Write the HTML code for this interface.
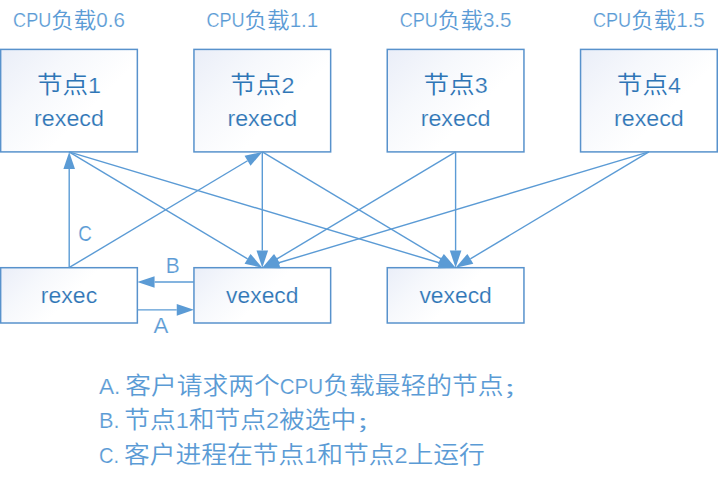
<!DOCTYPE html>
<html lang="zh-CN"><head><meta charset="utf-8"><title>rexec</title>
<style>
html,body{margin:0;padding:0;background:#fff;}
body{width:718px;height:483px;overflow:hidden;font-family:'Liberation Sans','Noto Sans CJK SC',sans-serif;}
svg{display:block}
text{font-family:'Liberation Sans','Noto Sans CJK SC',sans-serif;white-space:pre}
</style></head><body>
<svg width="718" height="483" viewBox="0 0 718 483">

<linearGradient id="g1" gradientUnits="userSpaceOnUse" x1="0.65" y1="49.40" x2="75.65" y2="124.40"><stop offset="0" stop-color="#eaeef8"/><stop offset="0.5" stop-color="#f6f8fc"/><stop offset="1" stop-color="#ffffff"/></linearGradient>
<rect x="0.65" y="49.40" width="136.70" height="102.50" fill="url(#g1)" stroke="#5892cc" stroke-width="1.5"/>
<linearGradient id="g2" gradientUnits="userSpaceOnUse" x1="193.95" y1="49.40" x2="268.95" y2="124.40"><stop offset="0" stop-color="#eaeef8"/><stop offset="0.5" stop-color="#f6f8fc"/><stop offset="1" stop-color="#ffffff"/></linearGradient>
<rect x="193.95" y="49.40" width="136.70" height="102.50" fill="url(#g2)" stroke="#5892cc" stroke-width="1.5"/>
<linearGradient id="g3" gradientUnits="userSpaceOnUse" x1="387.25" y1="49.40" x2="462.25" y2="124.40"><stop offset="0" stop-color="#eaeef8"/><stop offset="0.5" stop-color="#f6f8fc"/><stop offset="1" stop-color="#ffffff"/></linearGradient>
<rect x="387.25" y="49.40" width="136.70" height="102.50" fill="url(#g3)" stroke="#5892cc" stroke-width="1.5"/>
<linearGradient id="g4" gradientUnits="userSpaceOnUse" x1="580.55" y1="49.40" x2="655.55" y2="124.40"><stop offset="0" stop-color="#eaeef8"/><stop offset="0.5" stop-color="#f6f8fc"/><stop offset="1" stop-color="#ffffff"/></linearGradient>
<rect x="580.55" y="49.40" width="136.70" height="102.50" fill="url(#g4)" stroke="#5892cc" stroke-width="1.5"/>
<linearGradient id="g5" gradientUnits="userSpaceOnUse" x1="0.65" y1="267.70" x2="50.65" y2="317.70"><stop offset="0" stop-color="#eaeef8"/><stop offset="0.5" stop-color="#f6f8fc"/><stop offset="1" stop-color="#ffffff"/></linearGradient>
<rect x="0.65" y="267.70" width="136.70" height="55.30" fill="url(#g5)" stroke="#5892cc" stroke-width="1.5"/>
<linearGradient id="g6" gradientUnits="userSpaceOnUse" x1="193.95" y1="267.70" x2="243.95" y2="317.70"><stop offset="0" stop-color="#eaeef8"/><stop offset="0.5" stop-color="#f6f8fc"/><stop offset="1" stop-color="#ffffff"/></linearGradient>
<rect x="193.95" y="267.70" width="136.70" height="55.30" fill="url(#g6)" stroke="#5892cc" stroke-width="1.5"/>
<linearGradient id="g7" gradientUnits="userSpaceOnUse" x1="387.25" y1="267.70" x2="437.25" y2="317.70"><stop offset="0" stop-color="#eaeef8"/><stop offset="0.5" stop-color="#f6f8fc"/><stop offset="1" stop-color="#ffffff"/></linearGradient>
<rect x="387.25" y="267.70" width="136.70" height="55.30" fill="url(#g7)" stroke="#5892cc" stroke-width="1.5"/>
<line x1="69.20" y1="267.70" x2="69.20" y2="169.10" stroke="#5b9bd5" stroke-width="1.4"/><polygon points="69.20,151.90 75.00,169.10 63.40,169.10" fill="#5b9bd5"/>
<line x1="69.00" y1="267.70" x2="247.55" y2="160.74" stroke="#5b9bd5" stroke-width="1.4"/><polygon points="262.30,151.90 250.53,165.71 244.56,155.76" fill="#5b9bd5"/>
<line x1="69.00" y1="151.90" x2="247.55" y2="258.86" stroke="#5b9bd5" stroke-width="1.4"/><polygon points="262.30,267.70 244.56,263.84 250.53,253.89" fill="#5b9bd5"/>
<line x1="69.00" y1="151.90" x2="439.12" y2="262.76" stroke="#5b9bd5" stroke-width="1.4"/><polygon points="455.60,267.70 437.46,268.32 440.79,257.21" fill="#5b9bd5"/>
<line x1="262.30" y1="151.90" x2="262.30" y2="250.50" stroke="#5b9bd5" stroke-width="1.4"/><polygon points="262.30,267.70 256.50,250.50 268.10,250.50" fill="#5b9bd5"/>
<line x1="262.30" y1="151.90" x2="440.85" y2="258.86" stroke="#5b9bd5" stroke-width="1.4"/><polygon points="455.60,267.70 437.86,263.84 443.83,253.89" fill="#5b9bd5"/>
<line x1="455.60" y1="151.90" x2="277.05" y2="258.86" stroke="#5b9bd5" stroke-width="1.4"/><polygon points="262.30,267.70 274.07,253.89 280.04,263.84" fill="#5b9bd5"/>
<line x1="455.60" y1="151.90" x2="455.60" y2="250.50" stroke="#5b9bd5" stroke-width="1.4"/><polygon points="455.60,267.70 449.80,250.50 461.40,250.50" fill="#5b9bd5"/>
<line x1="648.90" y1="151.90" x2="278.78" y2="262.76" stroke="#5b9bd5" stroke-width="1.4"/><polygon points="262.30,267.70 277.11,257.21 280.44,268.32" fill="#5b9bd5"/>
<line x1="648.90" y1="151.90" x2="470.35" y2="258.86" stroke="#5b9bd5" stroke-width="1.4"/><polygon points="455.60,267.70 467.37,253.89 473.34,263.84" fill="#5b9bd5"/>
<line x1="193.95" y1="281.95" x2="154.55" y2="281.95" stroke="#5b9bd5" stroke-width="1.4"/><polygon points="137.35,281.95 154.55,276.15 154.55,287.75" fill="#5b9bd5"/>
<line x1="137.35" y1="309.85" x2="176.75" y2="309.85" stroke="#5b9bd5" stroke-width="1.4"/><polygon points="193.95,309.85 176.75,315.65 176.75,304.05" fill="#5b9bd5"/>
<text transform="translate(0,26.90) scale(1,0.95)" fill="#5b9bd5"><tspan x="13.10" y="0" font-size="20.89" textLength="38.15" lengthAdjust="spacingAndGlyphs" stroke="#fff" stroke-width="0.2">CPU</tspan><tspan x="51.25 73.80" y="0.84" font-size="22.55" font-weight="350">负载</tspan><tspan x="96.35" y="0" font-size="20.89" textLength="28.55" lengthAdjust="spacingAndGlyphs" stroke="#fff" stroke-width="0.2">0.6</tspan></text>
<text transform="translate(0,93.20) scale(1,0.92)" fill="#2e75b6"><tspan x="36.91 62.51" y="0.00" font-size="25.60" font-weight="350">节点</tspan><tspan x="88.11" y="0" font-size="24.49" textLength="12.98" lengthAdjust="spacingAndGlyphs" stroke="#fff" stroke-width="0.2">1</tspan></text>
<text transform="translate(0,125.60) scale(1,0.92)" fill="#2e75b6"><tspan x="34.11" y="0" font-size="24.49" textLength="69.79" lengthAdjust="spacingAndGlyphs" stroke="#fff" stroke-width="0.2">rexecd</tspan></text>
<text transform="translate(0,26.90) scale(1,0.95)" fill="#5b9bd5"><tspan x="206.40" y="0" font-size="20.89" textLength="38.15" lengthAdjust="spacingAndGlyphs" stroke="#fff" stroke-width="0.2">CPU</tspan><tspan x="244.55 267.10" y="0.84" font-size="22.55" font-weight="350">负载</tspan><tspan x="289.65" y="0" font-size="20.89" textLength="28.55" lengthAdjust="spacingAndGlyphs" stroke="#fff" stroke-width="0.2">1.1</tspan></text>
<text transform="translate(0,93.20) scale(1,0.92)" fill="#2e75b6"><tspan x="230.21 255.81" y="0.00" font-size="25.60" font-weight="350">节点</tspan><tspan x="281.41" y="0" font-size="24.49" textLength="12.98" lengthAdjust="spacingAndGlyphs" stroke="#fff" stroke-width="0.2">2</tspan></text>
<text transform="translate(0,125.60) scale(1,0.92)" fill="#2e75b6"><tspan x="227.41" y="0" font-size="24.49" textLength="69.79" lengthAdjust="spacingAndGlyphs" stroke="#fff" stroke-width="0.2">rexecd</tspan></text>
<text transform="translate(0,26.90) scale(1,0.95)" fill="#5b9bd5"><tspan x="399.70" y="0" font-size="20.89" textLength="38.15" lengthAdjust="spacingAndGlyphs" stroke="#fff" stroke-width="0.2">CPU</tspan><tspan x="437.85 460.40" y="0.84" font-size="22.55" font-weight="350">负载</tspan><tspan x="482.95" y="0" font-size="20.89" textLength="28.55" lengthAdjust="spacingAndGlyphs" stroke="#fff" stroke-width="0.2">3.5</tspan></text>
<text transform="translate(0,93.20) scale(1,0.92)" fill="#2e75b6"><tspan x="423.51 449.11" y="0.00" font-size="25.60" font-weight="350">节点</tspan><tspan x="474.71" y="0" font-size="24.49" textLength="12.98" lengthAdjust="spacingAndGlyphs" stroke="#fff" stroke-width="0.2">3</tspan></text>
<text transform="translate(0,125.60) scale(1,0.92)" fill="#2e75b6"><tspan x="420.71" y="0" font-size="24.49" textLength="69.79" lengthAdjust="spacingAndGlyphs" stroke="#fff" stroke-width="0.2">rexecd</tspan></text>
<text transform="translate(0,26.90) scale(1,0.95)" fill="#5b9bd5"><tspan x="593.00" y="0" font-size="20.89" textLength="38.15" lengthAdjust="spacingAndGlyphs" stroke="#fff" stroke-width="0.2">CPU</tspan><tspan x="631.15 653.70" y="0.84" font-size="22.55" font-weight="350">负载</tspan><tspan x="676.25" y="0" font-size="20.89" textLength="28.55" lengthAdjust="spacingAndGlyphs" stroke="#fff" stroke-width="0.2">1.5</tspan></text>
<text transform="translate(0,93.20) scale(1,0.92)" fill="#2e75b6"><tspan x="616.81 642.41" y="0.00" font-size="25.60" font-weight="350">节点</tspan><tspan x="668.01" y="0" font-size="24.49" textLength="12.98" lengthAdjust="spacingAndGlyphs" stroke="#fff" stroke-width="0.2">4</tspan></text>
<text transform="translate(0,125.60) scale(1,0.92)" fill="#2e75b6"><tspan x="614.01" y="0" font-size="24.49" textLength="69.79" lengthAdjust="spacingAndGlyphs" stroke="#fff" stroke-width="0.2">rexecd</tspan></text>
<text transform="translate(0,302.90) scale(1,0.92)" fill="#2e75b6"><tspan x="40.83" y="0" font-size="24.49" textLength="56.35" lengthAdjust="spacingAndGlyphs" stroke="#fff" stroke-width="0.2">rexec</tspan></text>
<text transform="translate(0,302.90) scale(1,0.92)" fill="#2e75b6"><tspan x="226.09" y="0" font-size="24.49" textLength="72.42" lengthAdjust="spacingAndGlyphs" stroke="#fff" stroke-width="0.2">vexecd</tspan></text>
<text transform="translate(0,302.90) scale(1,0.92)" fill="#2e75b6"><tspan x="419.39" y="0" font-size="24.49" textLength="72.42" lengthAdjust="spacingAndGlyphs" stroke="#fff" stroke-width="0.2">vexecd</tspan></text>
<text transform="translate(0,241.30) scale(1,0.92)" fill="#5b9bd5"><tspan x="78.20" y="0" font-size="24.49" textLength="13.64" lengthAdjust="spacingAndGlyphs" stroke="#fff" stroke-width="0.2">C</tspan></text>
<text transform="translate(0,272.90) scale(1,0.92)" fill="#5b9bd5"><tspan x="165.80" y="0" font-size="24.49" textLength="13.93" lengthAdjust="spacingAndGlyphs" stroke="#fff" stroke-width="0.2">B</tspan></text>
<text transform="translate(0,332.90) scale(1,0.92)" fill="#5b9bd5"><tspan x="153.50" y="0" font-size="24.49" textLength="14.82" lengthAdjust="spacingAndGlyphs" stroke="#fff" stroke-width="0.2">A</tspan></text>
<text transform="translate(0,393.80) scale(1,0.92)" fill="#5b9bd5"><tspan x="99.00" y="0" font-size="24.63" textLength="21.40" lengthAdjust="spacingAndGlyphs" stroke="#fff" stroke-width="0.2">A.</tspan><tspan x="120.40" y="0"> </tspan><tspan x="125.16 150.91 176.66 202.41 228.16 253.91" y="0.00" font-size="25.75" font-weight="350">客户请求两个</tspan><tspan x="279.66" y="0" font-size="24.63" textLength="43.57" lengthAdjust="spacingAndGlyphs" stroke="#fff" stroke-width="0.2">CPU</tspan><tspan x="323.23 348.98 374.73 400.48 426.23 451.98 477.73" y="0.00" font-size="25.75" font-weight="350">负载最轻的节点</tspan><tspan x="503.08" y="1.30" font-size="18.81" font-weight="400" textLength="27.04" lengthAdjust="spacingAndGlyphs">；</tspan></text>
<text transform="translate(0,428.10) scale(1,0.92)" fill="#5b9bd5"><tspan x="99.00" y="0" font-size="24.63" textLength="20.50" lengthAdjust="spacingAndGlyphs" stroke="#fff" stroke-width="0.2">B.</tspan><tspan x="119.50" y="0"> </tspan><tspan x="124.26 150.01" y="0.00" font-size="25.75" font-weight="350">节点</tspan><tspan x="175.76" y="0" font-size="24.63" textLength="13.06" lengthAdjust="spacingAndGlyphs" stroke="#fff" stroke-width="0.2">1</tspan><tspan x="188.82 214.57 240.32" y="0.00" font-size="25.75" font-weight="350">和节点</tspan><tspan x="266.07" y="0" font-size="24.63" textLength="13.06" lengthAdjust="spacingAndGlyphs" stroke="#fff" stroke-width="0.2">2</tspan><tspan x="279.12 304.87 330.62" y="0.00" font-size="25.75" font-weight="350">被选中</tspan><tspan x="355.97" y="1.30" font-size="18.81" font-weight="400" textLength="27.04" lengthAdjust="spacingAndGlyphs">；</tspan></text>
<text transform="translate(0,462.50) scale(1,0.92)" fill="#5b9bd5"><tspan x="99.00" y="0" font-size="24.63" textLength="20.21" lengthAdjust="spacingAndGlyphs" stroke="#fff" stroke-width="0.2">C.</tspan><tspan x="119.21" y="0"> </tspan><tspan x="123.98 149.73 175.48 201.23 226.98 252.73 278.48" y="0.00" font-size="25.75" font-weight="350">客户进程在节点</tspan><tspan x="304.23" y="0" font-size="24.63" textLength="13.06" lengthAdjust="spacingAndGlyphs" stroke="#fff" stroke-width="0.2">1</tspan><tspan x="317.28 343.03 368.78" y="0.00" font-size="25.75" font-weight="350">和节点</tspan><tspan x="394.53" y="0" font-size="24.63" textLength="13.06" lengthAdjust="spacingAndGlyphs" stroke="#fff" stroke-width="0.2">2</tspan><tspan x="407.59 433.34 459.09" y="0.00" font-size="25.75" font-weight="350">上运行</tspan></text>
</svg></body></html>
